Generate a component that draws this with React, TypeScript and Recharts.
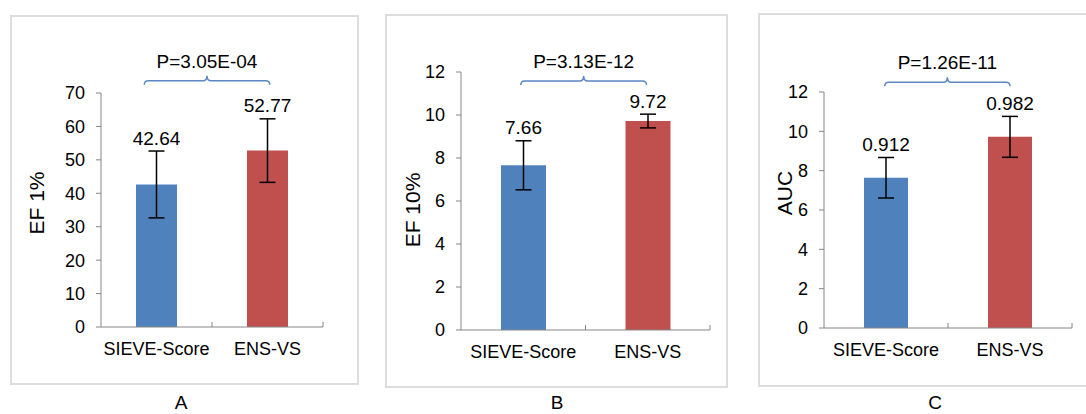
import React from 'react';
import { BarChart, Bar, XAxis, YAxis, ErrorBar, LabelList, ReferenceLine, Cell } from 'recharts';

// ---------- data ----------
const categories = ['SIEVE-Score', 'ENS-VS'];
const barColors = ['#4F81BD', '#C0504D'];

const efOneValues = [42.64, 52.77];
const efOneErrors = [10.0, 9.5];
const efOneLabels = ['42.64', '52.77'];
const efOneTicks = [0, 10, 20, 30, 40, 50, 60, 70];
const efOneP = 'P=3.05E-04';

const efTenValues = [7.66, 9.72];
const efTenErrors = [1.14, 0.32];
const efTenLabels = ['7.66', '9.72'];
const efTenTicks = [0, 2, 4, 6, 8, 10, 12];
const efTenP = 'P=3.13E-12';

const aucValues = [7.64, 9.72];
const aucErrors = [1.03, 1.04];
const aucLabels = ['0.912', '0.982'];
const aucTicks = [0, 2, 4, 6, 8, 10, 12];
const aucP = 'P=1.26E-11';

const panelLetters = ['A', 'B', 'C'];

// ---------- styles / layout ----------
const FONT = "'Liberation Sans', Arial, Helvetica, sans-serif";
const AXIS = '#868686';
const BRACKET = '#5b87c5';

const panels = [
  {
    title: 'EF 1%', values: efOneValues, errors: efOneErrors, labels: efOneLabels, ticks: efOneTicks, p: efOneP,
    box: { x: 10, y: 15, w: 349, h: 370 }, margin: { top: 78, right: 36, bottom: 28, left: 0 }, yWidth: 91,
    barSize: 41, bracket: { from: 0.39, to: 1.52, y: 73.7 }, titleDx: 65, titleDy: -7, letterX: 181,
  },
  {
    title: 'EF 10%', values: efTenValues, errors: efTenErrors, labels: efTenLabels, ticks: efTenTicks, p: efTenP,
    box: { x: 385, y: 14, w: 343, h: 374 }, margin: { top: 58, right: 18, bottom: 28, left: 0 }, yWidth: 76,
    barSize: 45, bracket: { from: 0.48, to: 1.49, y: 11.58 }, titleDx: 49, titleDy: 9, letterX: 557,
  },
  {
    title: 'AUC', values: aucValues, errors: aucErrors, labels: aucLabels, ticks: aucTicks, p: aucP,
    box: { x: 758, y: 13, w: 335, h: 374 }, margin: { top: 79, right: 21, bottom: 29, left: 0 }, yWidth: 66,
    barSize: 44, bracket: { from: 0.49, to: 1.5, y: 12.49 }, titleDx: 40, titleDy: -17, letterX: 935,
  },
];

function AxisTitle(props: any) {
  const { viewBox, text, dx, dy } = props;
  const cx = viewBox.x + viewBox.width - dx;
  const cy = viewBox.y + viewBox.height / 2 + dy;
  const fs = 21;
  return (
    <text x={cx} y={cy + 0.358 * fs} transform={`rotate(-90, ${cx}, ${cy})`} textAnchor="middle"
      fontSize={fs} fill="#000" fontFamily={FONT}>{text}</text>
  );
}

// bracket between the two category centres; from/to are in band units (0.5 = first centre, 1.5 = second)
function Bracket(props: any) {
  const c1 = Number(props.x1), c2 = Number(props.x2), y = Number(props.y1);
  const band = c2 - c1;
  const x1 = c1 + (props.from - 0.5) * band;
  const x2 = c1 + (props.to - 0.5) * band;
  const r = 4;
  const cx = (x1 + x2) / 2;
  const d = `M${x1},${y + r} Q${x1},${y} ${x1 + r},${y} L${cx - r},${y} Q${cx},${y} ${cx},${y - r - 1} ` +
    `Q${cx},${y} ${cx + r},${y} L${x2 - r},${y} Q${x2},${y} ${x2},${y + r}`;
  return (
    <g>
      <path d={d} fill="none" stroke={BRACKET} strokeWidth={1.5} />
      <text x={cx} y={y - 13} textAnchor="middle" fontSize={19} fill="#000" fontFamily={FONT}>{props.text}</text>
    </g>
  );
}

// short inside tick at category boundary on the x axis
function BoundaryTick(props: any) {
  const x = Number(props.x1);
  const yb = Math.max(Number(props.y1), Number(props.y2));
  return <line x1={x} x2={x} y1={yb} y2={yb - 5} stroke={AXIS} strokeWidth={1} />;
}

function Panel({ cfg }: { cfg: any }) {
  const data = categories.map((name, i) => ({ name, value: cfg.values[i], err: cfg.errors[i] }));
  const yMax = cfg.ticks[cfg.ticks.length - 1];
  const last = categories[categories.length - 1];
  const renderValue = (p: any) => {
    const x = Number(p.x), y = Number(p.y), w = Number(p.width), h = Number(p.height);
    const i = p.index;
    const ppu = h / cfg.values[i];
    const errTop = y - cfg.errors[i] * ppu;
    return (
      <text key={`v${i}`} x={x + w / 2} y={errTop - 6.5} textAnchor="middle" fontSize={19} fill="#000" fontFamily={FONT}>
        {cfg.labels[i]}
      </text>
    );
  };
  return (
    <div style={{ position: 'absolute', left: cfg.box.x, top: cfg.box.y, width: cfg.box.w, height: cfg.box.h }}>
      <BarChart width={cfg.box.w} height={cfg.box.h} data={data} margin={cfg.margin} style={{ fontFamily: FONT }}>
        <XAxis xAxisId="cat" dataKey="name" type="category" axisLine={{ stroke: AXIS }} tickLine={false} tickSize={0}
          tickMargin={15} height={30} interval={0} tick={{ fontSize: 18, fill: '#000', fontFamily: FONT }} />
        <YAxis domain={[0, yMax]} ticks={cfg.ticks} width={cfg.yWidth} tickSize={5} tickMargin={11} stroke={AXIS}
          allowDataOverflow interval={0} tick={{ fontSize: 18, fill: '#000', fontFamily: FONT }}
          label={<AxisTitle text={cfg.title} dx={cfg.titleDx} dy={cfg.titleDy} />} />
        <Bar xAxisId="cat" dataKey="value" barSize={cfg.barSize} isAnimationActive={false}>
          {data.map((d, i) => <Cell key={d.name} fill={barColors[i]} />)}
          <ErrorBar dataKey="err" width={8} strokeWidth={1.5} stroke="#000" direction="y" isAnimationActive={false} />
          <LabelList dataKey="value" content={renderValue} />
        </Bar>
        {categories.slice(1).map((c) => (
          <ReferenceLine key={`b${c}`} xAxisId="cat" x={c} position="start" ifOverflow="visible" shape={(p: any) => <BoundaryTick {...p} />} />
        ))}
        <ReferenceLine xAxisId="cat" x={last} position="end" ifOverflow="visible" shape={(p: any) => <BoundaryTick {...p} />} />
        <ReferenceLine xAxisId="cat" ifOverflow="visible"
          segment={[{ x: categories[0], y: cfg.bracket.y }, { x: last, y: cfg.bracket.y }]}
          shape={(p: any) => <Bracket {...p} from={cfg.bracket.from} to={cfg.bracket.to} text={cfg.p} />} />
      </BarChart>
      <div style={{ position: 'absolute', left: 0, top: 0, right: 0, bottom: 0, border: '2px solid #dddddd', boxSizing: 'border-box', pointerEvents: 'none' }} />
    </div>
  );
}

export default function App() {
  return (
    <div style={{ position: 'absolute', left: 0, top: 0, width: 1086, height: 414, overflow: 'hidden', background: '#fff', fontFamily: FONT }}>
      {panels.map((cfg, i) => <Panel key={i} cfg={cfg} />)}
      <svg width={1086} height={414} style={{ position: 'absolute', left: 0, top: 0, pointerEvents: 'none' }}>
        {panels.map((cfg, i) => (
          <text key={i} x={cfg.letterX} y={409} textAnchor="middle" fontSize={19} fill="#000" fontFamily={FONT}>{panelLetters[i]}</text>
        ))}
      </svg>
    </div>
  );
}
